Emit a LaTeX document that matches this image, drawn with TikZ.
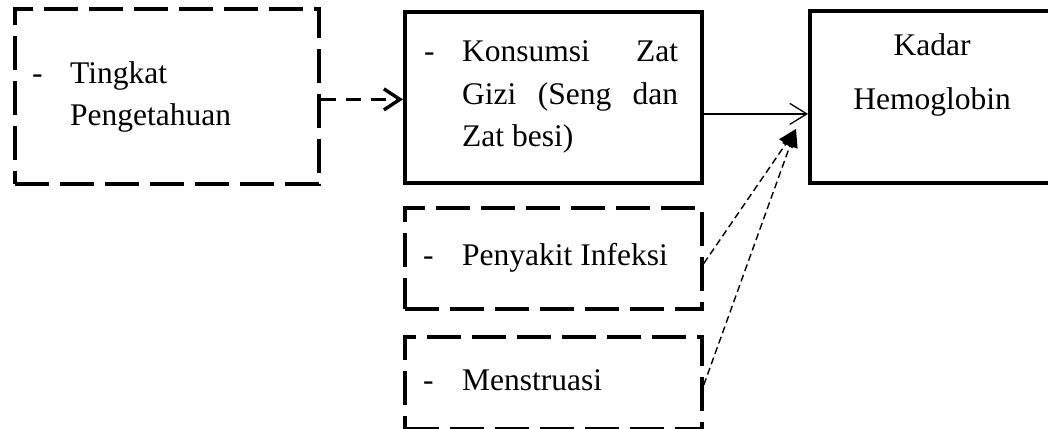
\documentclass[tikz,border=0pt]{standalone}
\usepackage{fontspec}
\setmainfont{Liberation Serif}
\usetikzlibrary{arrows.meta}
\tolerance=10000
\hyphenpenalty=10000
\begin{document}
\begin{tikzpicture}[x=1pt,y=-1pt,
  box/.style={draw, line width=3.8pt, inner sep=0pt, anchor=north west},
  dbox/.style={box, dash pattern=on 34pt off 11pt},
  txt/.style={font=\fontsize{31.5}{42.5}\selectfont, inner sep=0pt, anchor=base west},
  thickdash/.style={line width=3.4pt, dash pattern=on 15pt off 10pt,
    -{Straight Barb[length=16pt,width=21pt,line width=3.4pt]}},
  thinsolid/.style={line width=1.3pt,
    -{Straight Barb[length=17pt,width=21pt,line width=1.3pt]}},
  thindash/.style={line width=1.4pt, dash pattern=on 7pt off 4pt,
    -{Triangle[length=18pt,width=16pt]}}]
\clip (0,0) rectangle (1048,428);
\fill[white] (0,0) rectangle (1048,428);
% boxes
\node[dbox, minimum width=304pt, minimum height=175pt] (A) at (13,7) {};
\node[box,  minimum width=297pt, minimum height=171pt] (B) at (403,10) {};
\node[box,  minimum width=252pt, minimum height=172pt] (C) at (808,9) {};
\node[dbox, minimum width=297pt, minimum height=101pt] (D) at (403,206) {};
\node[dbox, minimum width=297pt, minimum height=92pt]  (E) at (403,335) {};
% texts
\node[txt] (Ad) at (32,83) {-};
\node[txt, text width=220pt, align=left] (At) at (70,83) {Tingkat\\Pengetahuan};
\node[txt] (Bd) at (424,62) {-};
\node[txt, text width=216pt, align=justify] (Bt) at (462,62) {Konsumsi Zat Gizi (Seng dan Zat besi)};
\node[font=\fontsize{31.5}{54}\selectfont, inner sep=0pt, anchor=base, text width=240pt, align=center] (Ct) at (932,56) {Kadar\\Hemoglobin};
\node[txt] (Dd) at (423,265) {-};
\node[txt] (Dt) at (462,265) {Penyakit Infeksi};
\node[txt] (Ed) at (423,390) {-};
\node[txt] (Et) at (462,390) {Menstruasi};
% connectors
\coordinate (tip) at (796,129);
\draw[thickdash] ([yshift=-3pt]A.east) -- ([yshift=-2pt]B.west);
\draw[thinsolid] ([yshift=-16.5pt]B.east) -- ([yshift=-17pt]C.west);
\draw[thindash] ([yshift=-5pt]D.east) -- (tip);
\draw[thindash] ([yshift=-2pt]E.east) -- (tip);
\end{tikzpicture}
\end{document}
